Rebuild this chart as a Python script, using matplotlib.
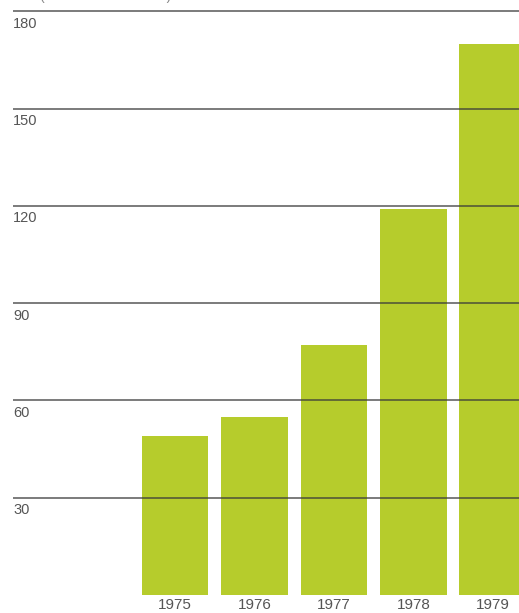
import matplotlib.pyplot as plt
from matplotlib.transforms import blended_transform_factory, offset_copy

years = ['1975', '1976', '1977', '1978', '1979']
values = [49, 55, 77, 119, 170]
grid_levels = [30, 60, 90, 120, 150, 180]

plt.rcParams['font.family'] = ['Liberation Sans', 'DejaVu Sans']

fig = plt.figure(figsize=(5.19, 6.13), dpi=100)
ax = fig.add_axes([13 / 519, 18 / 613, 506 / 519, 595 / 613])

x = list(range(len(years)))
ax.bar(x, values, width=0.84, color='#b6cc2c', zorder=1)

for lvl in grid_levels:
    ax.axhline(lvl, color='#3a3a3a', lw=1.1, alpha=0.85, zorder=2)

ax.set_xlim(-2.04, 4.33)
ax.set_ylim(0, 183.5)

# y labels sit just under each line, flush left
trans = blended_transform_factory(ax.transAxes, ax.transData)
trans = offset_copy(trans, fig=fig, x=0, y=-4, units='points')
for lvl in grid_levels:
    ax.text(0.0, lvl, str(lvl), transform=trans, ha='left', va='top',
            fontsize=10.5, color='#555555')

ax.set_xticks(x)
ax.set_xticklabels(years, fontsize=11, color='#555555')
ax.tick_params(axis='x', length=0, pad=2)
ax.set_yticks([])
for s in ax.spines.values():
    s.set_visible(False)

# caption is mostly cropped off the top edge in the original
fig.text(40 / 519, 1 + 4 / 613, '(in millions of dollars)', ha='left', va='center',
         fontsize=10, color='#888888')

fig.savefig('out.png', dpi=100)
